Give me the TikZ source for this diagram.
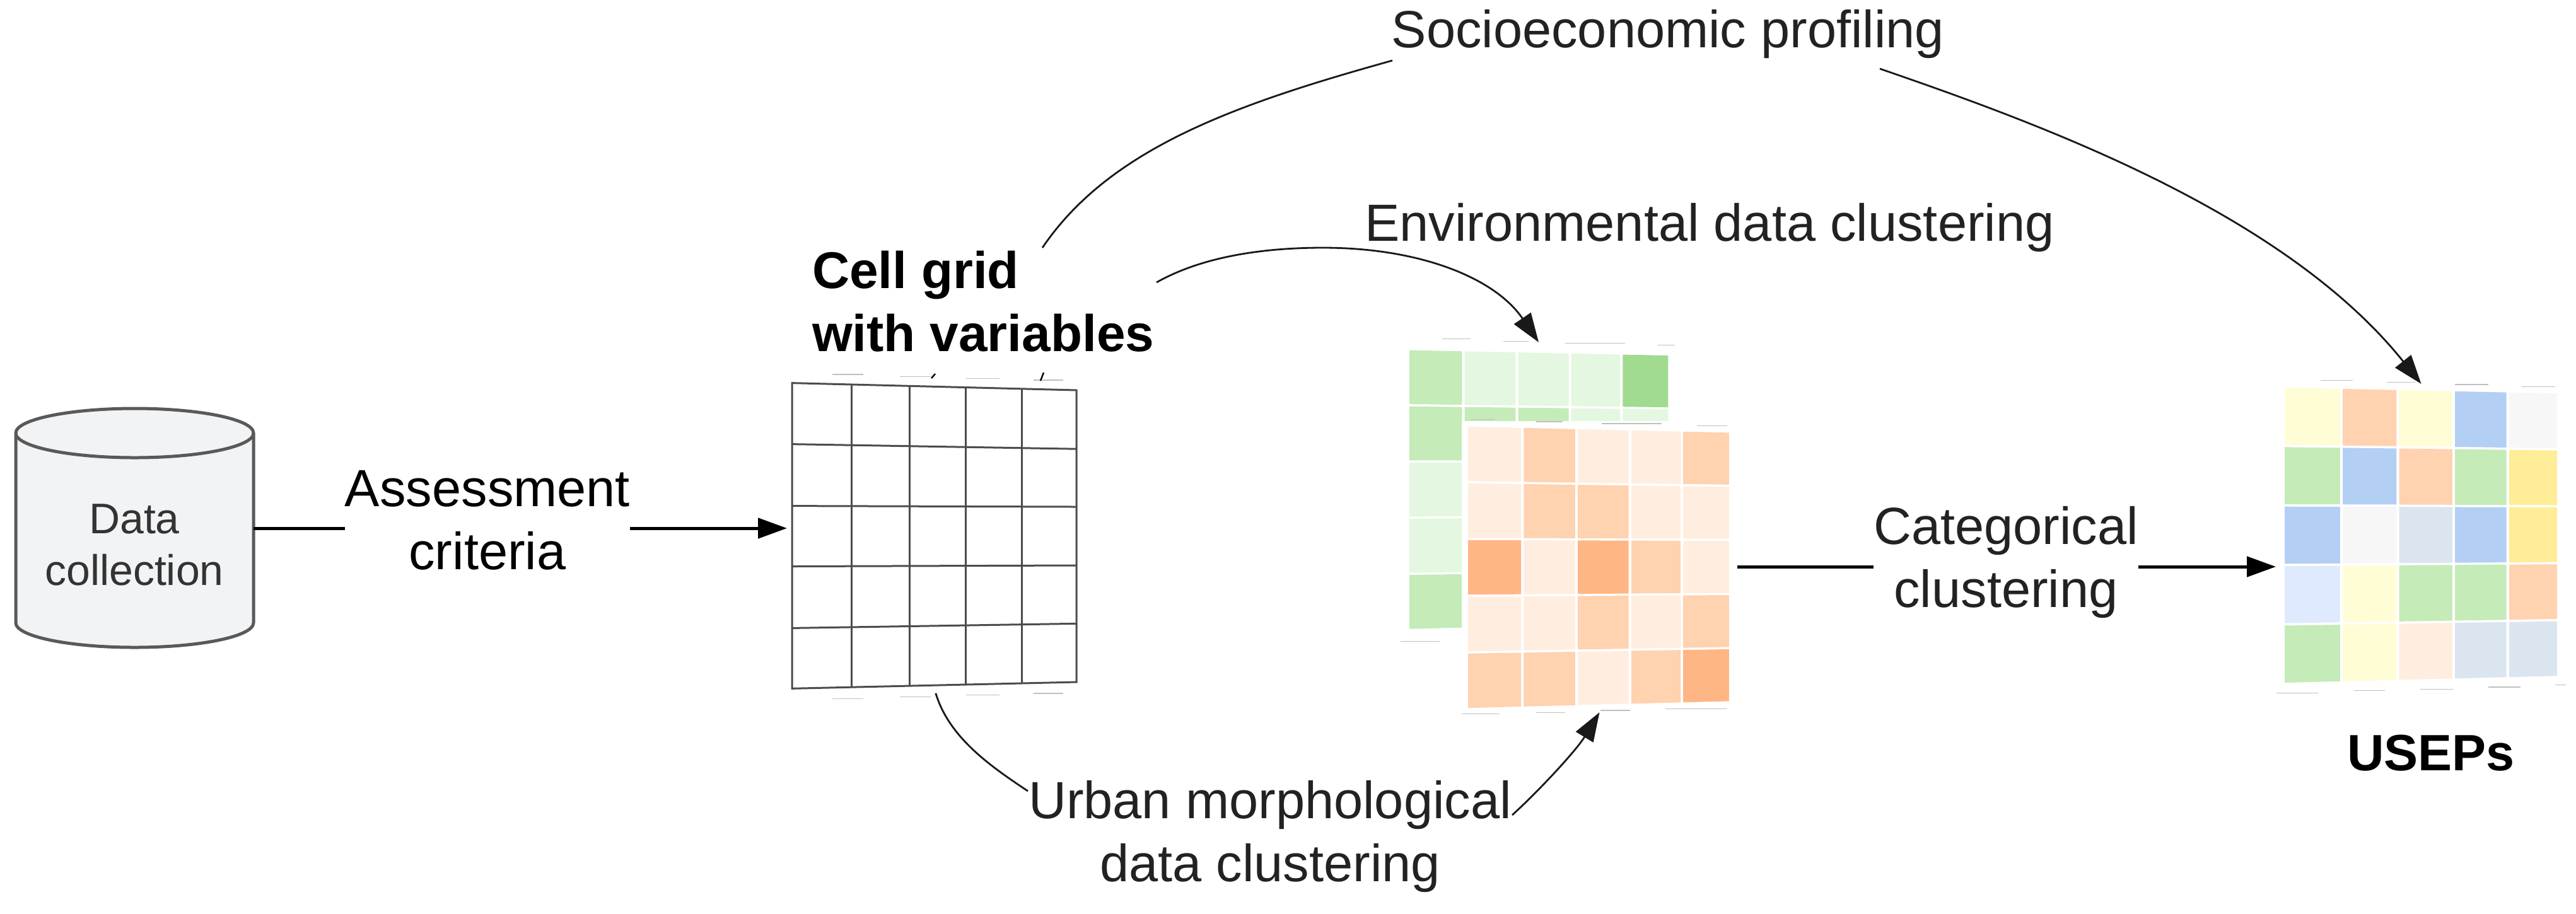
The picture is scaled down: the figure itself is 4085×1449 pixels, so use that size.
\documentclass[tikz,border=0pt]{standalone}
\usepackage{fontspec}
\setmainfont{Liberation Sans}
\usetikzlibrary{arrows.meta}
\definecolor{cDB}{HTML}{F2F3F5}
\definecolor{cDBline}{HTML}{595959}
\definecolor{cTxt}{HTML}{222222}
\definecolor{gM}{HTML}{C4EBB8}
\definecolor{gL}{HTML}{E4F7E0}
\definecolor{gH}{HTML}{A0DB90}
\definecolor{oL}{HTML}{FFEEDF}
\definecolor{oD}{HTML}{FFD2B0}
\definecolor{oH}{HTML}{FFB685}
\definecolor{uY}{HTML}{FFFDD6}
\definecolor{uB}{HTML}{B4CFF4}
\definecolor{uW}{HTML}{F7F7F7}
\definecolor{uD}{HTML}{FFED97}
\definecolor{uS}{HTML}{DBE5EF}
\definecolor{uP}{HTML}{E0EAFF}
\tikzset{
  lbl/.style={inner sep=0pt,outer sep=0pt,align=center,text=cTxt,font=\fontsize{20.75}{25}\selectfont},
  boldlbl/.style={inner sep=0pt,outer sep=0pt,align=left,text=black,font=\fontsize{20.5}{25}\selectfont\bfseries},
  dblbl/.style={inner sep=0pt,outer sep=0pt,align=center,text=black!80,font=\fontsize{17}{20.5}\selectfont},
  holder/.style={inner sep=0pt,outer sep=0pt,draw=none},
  gridline/.style={draw=black!70,line width=0.75pt},
  faint/.style={draw=black!25,line width=0.35pt},
  heavy/.style={draw=black,line width=1.25pt},
  thin curve/.style={draw=black!90,line width=0.7pt},
  tip/.style={-{Triangle[length=11.5pt,width=8pt]}}
}
\newcommand{\cellmap}[7]{%
  \def\Xa{#1}\def\Xb{#2}\def\Ya{#3}\def\Yb{#4}\def\Yc{#5}\def\Yd{#6}%
  \foreach \c [count=\n from 0] in {#7}{%
    \pgfmathtruncatemacro\ci{mod(\n,5)}%
    \pgfmathtruncatemacro\cj{\ci+1}%
    \pgfmathtruncatemacro\rj{int(\n/5)}%
    \pgfmathsetmacro\ua{{0,0.211,0.416,0.619,0.816,1}[\ci]+0.005}%
    \pgfmathsetmacro\ub{{0,0.211,0.416,0.619,0.816,1}[\cj]-0.005}%
    \pgfmathsetmacro\va{(\rj+0.02)/5}%
    \pgfmathsetmacro\vb{(\rj+0.98)/5}%
    \fill[fill=\c] ({bx(\ua)},{by(\ua,\va)}) -- ({bx(\ub)},{by(\ub,\va)}) -- ({bx(\ub)},{by(\ub,\vb)}) -- ({bx(\ua)},{by(\ua,\vb)}) -- cycle;
  }%
}
\begin{document}
\begin{tikzpicture}[x=0.25pt,y=-0.25pt,
  declare function={bx(\u)=\Xa+\u*(\Xb-\Xa);
    by(\u,\v)=(1-\u)*((1-\v)*\Ya+\v*\Yb)+\u*((1-\v)*\Yc+\v*\Yd);}]
\fill[white] (0,0) rectangle (4085,1449);
\path[use as bounding box] (0,0) rectangle (4085,1449);

% database
\path[fill=cDB,draw=cDBline,line width=1.25pt]
  (25,687) -- (25,988) arc[start angle=180,end angle=0,x radius=188.5,y radius=39]
  -- (402,687) arc[start angle=0,end angle=-180,x radius=188.5,y radius=39] -- cycle;
\draw[draw=cDBline,line width=1.25pt] (25,687) arc[start angle=180,end angle=0,x radius=188.5,y radius=39];
\node[dblbl,anchor=base] (dbtext) at (213,928) {Data\\collection};
\coordinate (dbE) at (402,838);

% blank cell grid
\node[holder,minimum width=112.75pt,minimum height=121pt] (gridA) at (1481.5,850) {};
\draw[gridline] (1256,607.6) -- (1707,619) -- (1707,1082) -- (1256,1092.3) -- cycle;
\foreach \ya/\yb in {704.6/712.2,802.6/804,898.5/897,996.4/989.3}
  \draw[gridline] (1256,\ya) -- (1707,\yb);
\foreach \xx/\yt/\yb in {1350/610/1090,1442/612.5/1088,1531/614.5/1086,1620/617/1084}
  \draw[gridline] (\xx,\yt) -- (\xx,\yb);
\foreach \a/\b/\c in {380/490/478,620/730/485,855/975/491,1095/1200/496}
  \draw[faint] ({1150+\a/2.24},{350+\c/1.96}) -- ({1150+\b/2.24},{350+\c/1.96});
\foreach \a/\b/\c in {380/490/1487,620/730/1481,855/975/1475,1095/1200/1470}
  \draw[faint] ({1150+\a/2.24},{350+\c/1.96}) -- ({1150+\b/2.24},{350+\c/1.96});
\draw[draw=black,line width=0.6pt] (1477,600) -- (1483,593);
\draw[draw=black,line width=0.6pt] (1650,604) -- (1655,591);
\node[boldlbl,anchor=base west] (celllbl) at (1288,557) {Cell grid\\with variables};

% green map
\node[holder,minimum width=108.5pt,minimum height=117pt] (mapA) at (2440,777) {};
\cellmap{2233}{2647.5}{553.7}{999.5}{562.4}{989.5}{gM,gL,gL,gL,gH,gM,gM,gM,gL,gL,gL,gL,gL,gL,gL,gL,gL,gL,gL,gL,gM,gL,gL,gL,gL}
\foreach \a/\b/\c in {330/440/133,565/660/142,800/1030/149,1155/1220/156,170/320/1240}
  \draw[faint] ({2150+\a/2.412},{480+\c/2.306}) -- ({2150+\b/2.412},{480+\c/2.306});

% orange map
\node[holder,fill=white,minimum width=109.25pt,minimum height=115.5pt] (mapB) at (2536.5,899) {};
\cellmap{2326}{2744}{675}{1125}{684.7}{1114}{oL,oD,oL,oL,oD,oL,oD,oD,oL,oL,oH,oL,oH,oD,oL,oL,oL,oD,oL,oD,oD,oD,oL,oD,oH}
\foreach \a/\b/\c in {440/530/428,690/790/436,940/1170/443,1305/1420/451,405/550/1505,690/800/1500,935/1050/1492,1185/1420/1486}
  \draw[faint] ({2150+\a/2.412},{480+\c/2.306}) -- ({2150+\b/2.412},{480+\c/2.306});

% USEP map
\node[holder,minimum width=115.25pt,minimum height=120.5pt] (mapC) at (3839.5,850) {};
\cellmap{3621}{4057}{613}{1085}{622.5}{1074}{uY,oD,uY,uB,uW,gM,uB,oD,gM,uD,uB,uW,uS,uB,uD,uP,uY,gM,gM,oD,gM,uY,oL,uS,uS}
\foreach \a/\b/\c in {380/530/122,690/820/130,1005/1160/140,1315/1470/149,175/370/1510,535/680/1500,845/1000/1493,1160/1310/1484,1470/1520/1474}
  \draw[faint] ({3550+\a/2.931},{560+\c/2.8}) -- ({3550+\b/2.931},{560+\c/2.8});
\node[boldlbl,anchor=base,font=\fontsize{20.25}{25}\selectfont\bfseries] (useps) at (3855,1222) {USEPs};

% labels
\node[lbl,anchor=base,text=black] (assess) at (773,903) {Assessment\\criteria};
\node[lbl,anchor=base] (socio) at (2645,75) {Socioeconomic profiling};
\node[lbl,anchor=base] (envir) at (2711,382) {Environmental data clustering};
\node[lbl,anchor=base] (urban) at (2014,1398) {Urban morphological\\data clustering};
\node[lbl,anchor=base] (categ) at (3181,963) {Categorical\\clustering};

% straight connectors
\draw[heavy] (dbE) -- (dbE -| assess.west);
\draw[heavy,tip,shorten >=2pt] (dbE -| assess.east) -- (dbE -| gridA.west);
\draw[heavy] (mapB.east) -- (mapB.east -| categ.west);
\draw[heavy,tip] (mapB.east -| categ.east) -- (mapB.east -| mapC.west);

% curved connectors
\coordinate (cellTop) at (1653,393);
\coordinate (cellRight) at (1834,448);
\coordinate (socioW) at (2208,96);
\coordinate (socioE) at (2981,109);
\coordinate (urbanW) at (1630,1255);
\coordinate (urbanE) at (2398,1293);
\coordinate (envPeak) at (2098,393);
\draw[thin curve] (cellTop) .. controls (1760,235) and (1960,165) .. (socioW);
\draw[thin curve,tip] (socioE) .. controls (3230,195) and (3620,335) .. (mapC.north);
\draw[thin curve,tip] (cellRight) .. controls (1910,405) and (2010,393) .. (envPeak) .. controls (2250,393) and (2370,440) .. (mapA.north);
\draw[thin curve,shorten <=2pt] (gridA.south) .. controls (1505,1170) and (1570,1215) .. (urbanW);
\draw[thin curve,tip] (urbanE) .. controls (2440,1255) and (2500,1190) .. (mapB.south);
\end{tikzpicture}
\end{document}
